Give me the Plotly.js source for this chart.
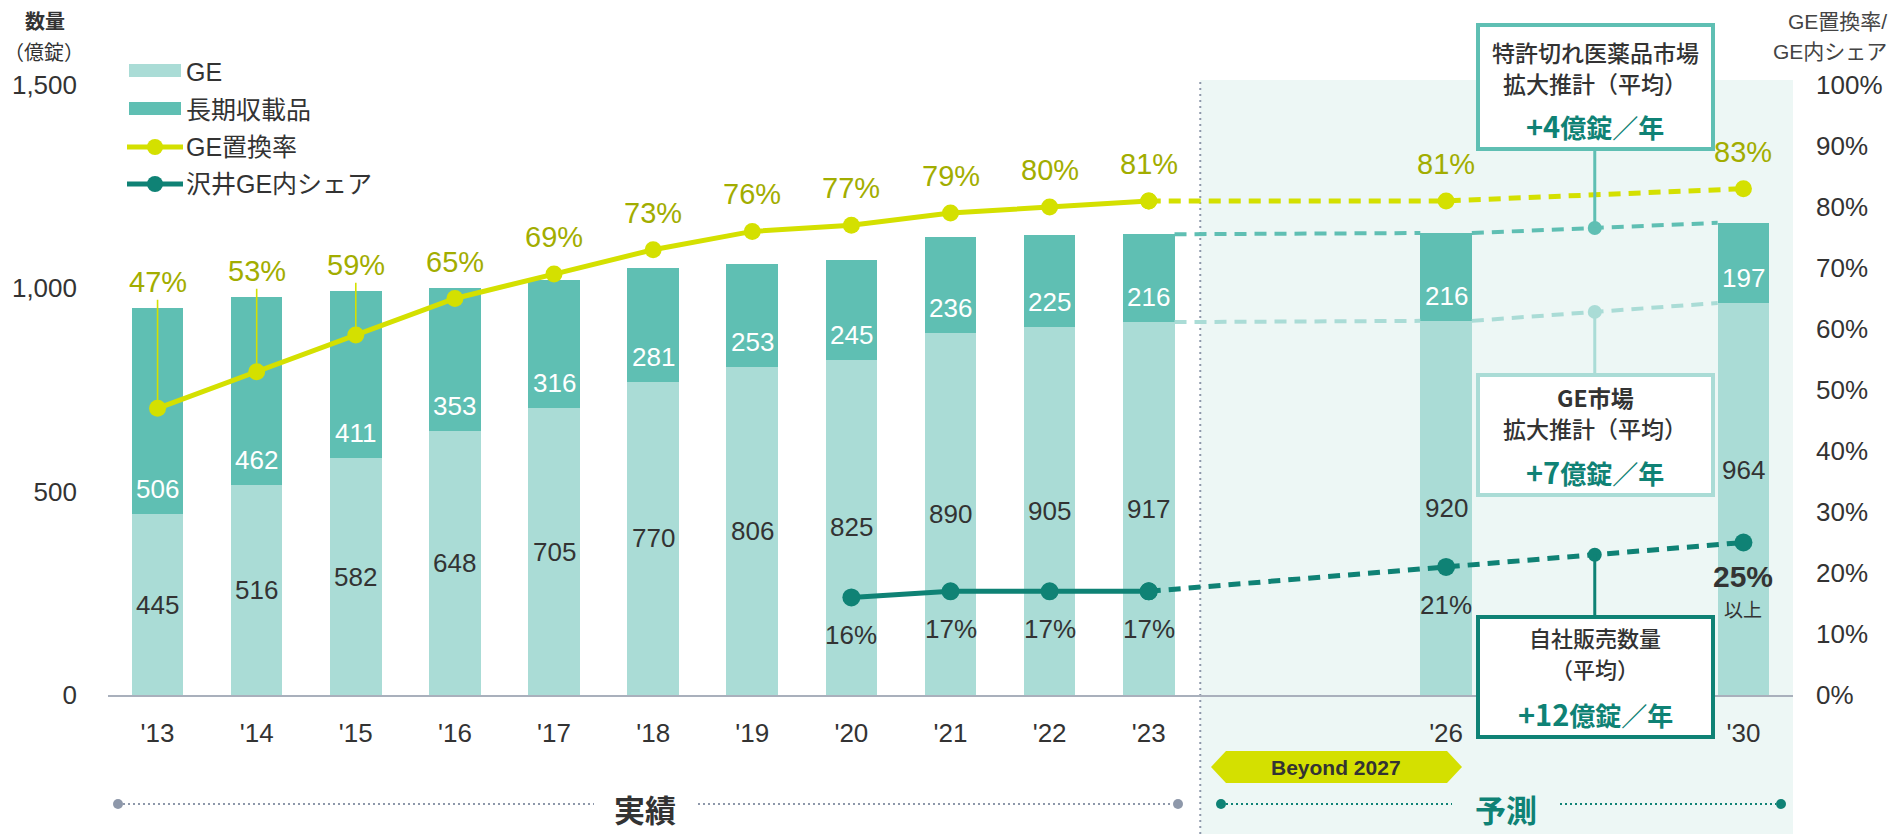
<!DOCTYPE html>
<html><head><meta charset="utf-8">
<script src="https://cdn.plot.ly/plotly-3.0.1.min.js"></script>
<style>html,body{margin:0;padding:0;background:#fff;} #chart{width:1889px;height:834px;}</style>
</head><body><div id="chart"></div>
<script>
// ---------- data ----------
const categories = ["'13","'14","'15","'16","'17","'18","'19","'20","'21","'22","'23","'26","'30"];
const geVolume   = [445,516,582,648,705,770,806,825,890,905,917,920,964];
const longListed = [506,462,411,353,316,281,253,245,236,225,216,216,197];
const geRate     = [47,53,59,65,69,73,76,77,79,80,81,81,83];
const shareYears = ["'20","'21","'22","'23","'26","'30"];
const sawaiShare = [16,17,17,17,21,25];
const actualCount = 11;          // '13..'23 are actuals, the rest forecast
const leftTicks = [0,500,1000,1500];

// ---------- layout helpers ----------
const slots = [0,1,2,3,4,5,6,7,8,9,10,13,16];   // x slot of each category
const X_MIN=-0.5, X_MAX=16.5, BAR_W=0.52, DIVIDE=10.52;
const FW=1889, FH=834, L=108, R=96, T=85, B=139;
const W=FW-L-R, H=FH-T-B;
const px = x => (x-L)/W;
const py = y => (FH-B-y)/H;
const xp = v => (v-X_MIN)/(X_MAX-X_MIN);

const C_GE='#AADCD6', C_LL='#5FBFB3', C_RATE='#D4E000', C_RATE_T='#A2AD00', C_SH='#0F8275';
const C_TXT='#333333', C_GRID='#8E98AA';
const LAT='Liberation Sans, Arial, Noto Sans CJK JP, sans-serif';
const CJK='Noto Sans CJK JP, Liberation Sans, sans-serif';

const totals = geVolume.map((g,i)=>g+longListed[i]);
const shareX = shareYears.map(y=>slots[categories.indexOf(y)]);
const nS = sawaiShare.length;
const iA = actualCount-1, iF1 = actualCount, iF2 = actualCount+1;
const midX = (slots[iF1]+slots[iF2])/2;
const totMid = (totals[iF1]+totals[iF2])/2;
const geMid = (geVolume[iF1]+geVolume[iF2])/2;
const shareMid = (sawaiShare[nS-2]+sawaiShare[nS-1])/2;
const hw = BAR_W/2;

const traces = [
  {type:'bar', x:slots, y:geVolume, width:BAR_W, marker:{color:C_GE}, hoverinfo:'skip', showlegend:false},
  {type:'bar', x:slots, y:longListed, width:BAR_W, marker:{color:C_LL}, hoverinfo:'skip', showlegend:false},
  // dashed connectors between bar tops in the forecast
  {type:'scatter', mode:'lines', x:[slots[iA]+hw, slots[iF1]-hw, null, slots[iF1]+hw, slots[iF2]-hw],
   y:[totals[iA], totals[iF1], null, totals[iF1], totals[iF2]], line:{color:C_LL, width:4, dash:'12px,8px'}, hoverinfo:'skip', showlegend:false},
  {type:'scatter', mode:'lines', x:[slots[iA]+hw, slots[iF1]-hw, null, slots[iF1]+hw, slots[iF2]-hw],
   y:[geVolume[iA], geVolume[iF1], null, geVolume[iF1], geVolume[iF2]], line:{color:C_GE, width:4, dash:'12px,8px'}, hoverinfo:'skip', showlegend:false},
  {type:'scatter', mode:'markers', x:[midX], y:[totMid], marker:{color:C_LL, size:14}, hoverinfo:'skip', showlegend:false},
  {type:'scatter', mode:'markers', x:[midX], y:[geMid], marker:{color:C_GE, size:14}, hoverinfo:'skip', showlegend:false},
  // GE replacement rate
  {type:'scatter', mode:'lines+markers', x:slots.slice(iA), y:geRate.slice(iA), yaxis:'y2',
   line:{color:C_RATE, width:5, dash:'12px,8px'}, marker:{color:C_RATE, size:17}, hoverinfo:'skip', showlegend:false},
  {type:'scatter', mode:'lines+markers', x:slots.slice(0,actualCount), y:geRate.slice(0,actualCount), yaxis:'y2',
   line:{color:C_RATE, width:5}, marker:{color:C_RATE, size:17}, hoverinfo:'skip', showlegend:false},
  // Sawai share
  {type:'scatter', mode:'lines+markers', x:shareX.slice(nS-3), y:sawaiShare.slice(nS-3), yaxis:'y2',
   line:{color:C_SH, width:5, dash:'12px,8px'}, marker:{color:C_SH, size:18}, hoverinfo:'skip', showlegend:false},
  {type:'scatter', mode:'lines+markers', x:shareX.slice(0,nS-2), y:sawaiShare.slice(0,nS-2), yaxis:'y2',
   line:{color:C_SH, width:5}, marker:{color:C_SH, size:18}, hoverinfo:'skip', showlegend:false},
  {type:'scatter', mode:'markers', x:[midX], y:[shareMid], yaxis:'y2', marker:{color:C_SH, size:14}, hoverinfo:'skip', showlegend:false}
];

const ann = [];
const A = (text, x, y, o={}) => ann.push(Object.assign({xref:'paper', yref:'paper', x:px(x), y:py(y), text, showarrow:false,
  xanchor:'center', yanchor:'middle', borderpad:0, font:{family:CJK, size:22, color:C_TXT}}, o));

// bar value labels
categories.forEach((c,i)=>{
  ann.push({xref:'x', yref:'y', x:slots[i], y:geVolume[i]/2, text:String(geVolume[i]), showarrow:false,
    yshift: i===categories.length-1 ? 29 : 0, font:{family:LAT, size:26, color:C_TXT}});
  ann.push({xref:'x', yref:'y', x:slots[i], y:geVolume[i], text:String(longListed[i]), showarrow:false,
    yshift:25, font:{family:LAT, size:26, color:'#ffffff'}});
  // GE rate labels: above the point and above the bar top
  const ptPx = geRate[i]/100*H, topPx = totals[i]/1500*H;
  const lab = Math.max(ptPx+37, topPx+26);
  const off = lab-ptPx;
  ann.push({xref:'x', yref:'y2', x:slots[i], y:geRate[i], text:geRate[i]+'%', showarrow:true,
    ax:0, ay:-off, axref:'pixel', ayref:'pixel', arrowhead:0, arrowwidth:1.6, standoff:8,
    arrowcolor: off>50 ? C_RATE : 'rgba(0,0,0,0)', font:{family:LAT, size:29, color:C_RATE_T}});
});
// share labels
sawaiShare.forEach((v,i)=>{
  if(i===nS-1) return;
  ann.push({xref:'x', yref:'y2', x:shareX[i], y:v, text:v+'%', showarrow:false, yshift:-38,
    font:{family:LAT, size:26, color:C_TXT}});
});
ann.push({xref:'x', yref:'y2', x:shareX[nS-1], y:sawaiShare[nS-1], text:'<b>'+sawaiShare[nS-1]+'%</b>', showarrow:false, yshift:-34,
  font:{family:LAT, size:30, color:C_TXT}});
ann.push({xref:'x', yref:'y2', x:shareX[nS-1], y:sawaiShare[nS-1], text:'以上', showarrow:false, yshift:-66,
  font:{family:CJK, size:19, color:C_TXT}});

// axis titles
A('<b>数量</b>', 45, 21, {font:{family:CJK, size:20, color:C_TXT}});
A('（億錠）', 44, 51, {font:{family:CJK, size:20, color:C_TXT}});
A('GE置換率/', 1888, 22, {xanchor:'right', font:{family:LAT, size:21, color:'#444'}});
A('GE内シェア', 1888, 51, {xanchor:'right', font:{family:LAT, size:21, color:'#444'}});

// legend
const legendRows = [['GE',72],['長期収載品',110],['GE置換率',147],['沢井GE内シェア',184]];
legendRows.forEach(r=>A(r[0], 185, r[1], {xanchor:'left', font:{family:LAT, size:25, color:C_TXT}}));

// callout boxes
const VAL = n => '<b><span style="font-size:29px">'+n+'</span>億錠／年</b>';
const BT = {family:CJK, size:23, color:C_TXT, weight:500};
A('特許切れ医薬品市場', 1595, 52, {font:BT});
A('拡大推計（平均）', 1595, 83, {font:BT});
A(VAL('+4'), 1595, 125, {font:{family:CJK, size:26, color:C_SH}});
A('<b>GE市場</b>', 1595, 397, {font:BT});
A('拡大推計（平均）', 1595, 428, {font:BT});
A(VAL('+7'), 1595, 471, {font:{family:CJK, size:26, color:C_SH}});
A('自社販売数量', 1595, 637, {font:{family:CJK, size:22, color:C_TXT, weight:500}});
A('（平均）', 1595, 668, {font:{family:CJK, size:22, color:C_TXT, weight:500}});
A(VAL('+12'), 1595, 713, {font:{family:CJK, size:26, color:C_SH}});

// bottom period labels
A('<b>Beyond 2027</b>', 1336, 767, {font:{family:LAT, size:21, color:C_TXT}});
A('<b>実績</b>', 645, 808, {font:{family:CJK, size:31, color:C_TXT}});
A('<b>予測</b>', 1506, 808, {font:{family:CJK, size:31, color:C_SH}});

// ---------- shapes ----------
const shapes = [];
const rectPx = (x0,y0,x1,y1,o) => shapes.push(Object.assign({type:'rect', xref:'paper', yref:'paper', x0:px(x0), x1:px(x1), y0:py(y1), y1:py(y0)}, o));
const linePx = (x0,y0,x1,y1,o) => shapes.push(Object.assign({type:'line', xref:'paper', yref:'paper', x0:px(x0), x1:px(x1), y0:py(y0), y1:py(y1)}, o));
const circPx = (cx,cy,r,col) => shapes.push({type:'circle', xref:'paper', yref:'paper', x0:px(cx-r), x1:px(cx+r), y0:py(cy+r), y1:py(cy-r), fillcolor:col, line:{width:0}});

// forecast background + divider
shapes.push({type:'rect', xref:'paper', yref:'paper', x0:xp(DIVIDE), x1:1, y0:py(FH), y1:py(80), fillcolor:'#EDF7F5', line:{width:0}, layer:'below'});
shapes.push({type:'line', xref:'paper', yref:'paper', x0:xp(DIVIDE), x1:xp(DIVIDE), y0:py(FH), y1:py(80), line:{color:C_GRID, width:2, dash:'2px,4px'}, layer:'below'});

// legend symbols
rectPx(129,64,181,77,{fillcolor:C_GE, line:{width:0}});
rectPx(129,102,181,115,{fillcolor:C_LL, line:{width:0}});
linePx(127,147,183,147,{line:{color:C_RATE, width:5}});
circPx(155,147,8,C_RATE);
linePx(127,184,183,184,{line:{color:C_SH, width:5}});
circPx(155,184,8,C_SH);

// connectors from mid markers to boxes
shapes.push({type:'line', xref:'paper', yref:'paper', x0:xp(midX), x1:xp(midX), y0:py(149), y1:totMid/1500, line:{color:C_LL, width:3}});
shapes.push({type:'line', xref:'paper', yref:'paper', x0:xp(midX), x1:xp(midX), y0:geMid/1500, y1:py(375), line:{color:C_GE, width:3}});
shapes.push({type:'line', xref:'paper', yref:'paper', x0:xp(midX), x1:xp(midX), y0:shareMid/100, y1:py(617), line:{color:C_SH, width:3}});
// boxes
rectPx(1478,25,1713,149,{fillcolor:'#ffffff', line:{color:C_LL, width:4}});
rectPx(1478,375,1713,495,{fillcolor:'#ffffff', line:{color:C_GE, width:4}});
rectPx(1478,617,1713,737,{fillcolor:'#ffffff', line:{color:C_SH, width:4}});

// Beyond 2027 banner
const bx = [1211,1226,1447,1462], byT=751, byM=767, byB=783;
shapes.push({type:'path', xref:'paper', yref:'paper', fillcolor:C_RATE, line:{width:0},
  path:`M${px(bx[0])},${py(byM)} L${px(bx[1])},${py(byT)} L${px(bx[2])},${py(byT)} L${px(bx[3])},${py(byM)} L${px(bx[2])},${py(byB)} L${px(bx[1])},${py(byB)} Z`});

// period dotted lines
const DOT = {width:2, dash:'2px,3px'};
linePx(123,804,594,804,{line:Object.assign({color:C_GRID},DOT)});
linePx(698,804,1173,804,{line:Object.assign({color:C_GRID},DOT)});
circPx(118,804,5,C_GRID); circPx(1178,804,5,C_GRID);
linePx(1226,804,1452,804,{line:Object.assign({color:C_SH},DOT)});
linePx(1560,804,1776,804,{line:Object.assign({color:C_SH},DOT)});
circPx(1221,804,5,C_SH); circPx(1781,804,5,C_SH);

const layout = {
  width:FW, height:FH, margin:{l:L, r:R, t:T, b:B, pad:0},
  paper_bgcolor:'#ffffff', plot_bgcolor:'rgba(0,0,0,0)',
  barmode:'stack', showlegend:false, hovermode:false,
  xaxis:{range:[X_MIN,X_MAX], tickvals:slots, ticktext:categories, showgrid:false, zeroline:false,
    showline:true, linecolor:'#A9B0BC', linewidth:2, ticks:'', ticklabelstandoff:14,
    tickfont:{family:LAT, size:26, color:C_TXT}, fixedrange:true},
  yaxis:{range:[0,1500], tickvals:leftTicks, tickformat:',d', showgrid:false, zeroline:false, showline:false,
    ticks:'', ticklabelstandoff:30, tickfont:{family:LAT, size:26, color:C_TXT}, fixedrange:true},
  yaxis2:{range:[0,100], overlaying:'y', side:'right', tick0:0, dtick:10, ticksuffix:'%', showgrid:false,
    zeroline:false, showline:false, ticks:'', ticklabelstandoff:22, tickfont:{family:LAT, size:26, color:C_TXT}, fixedrange:true},
  annotations:ann, shapes:shapes
};
Plotly.newPlot('chart', traces, layout, {staticPlot:true, displayModeBar:false});
</script></body></html>
